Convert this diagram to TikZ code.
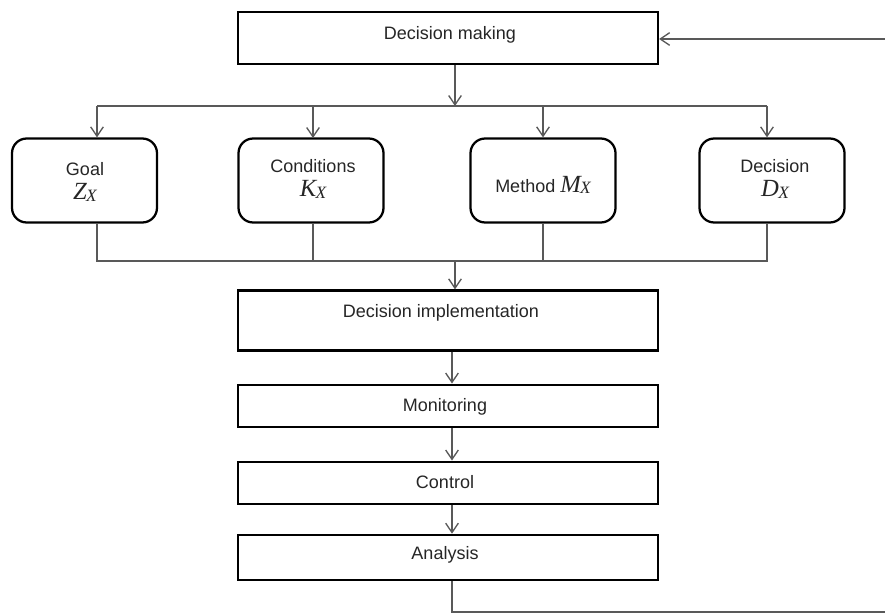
\documentclass[tikz,border=0pt]{standalone}
\usepackage{fontspec}
\setmainfont{Liberation Sans}
\newfontfamily\symfont{Liberation Serif}
\usetikzlibrary{arrows.meta}

% italic symbol with a small X index, e.g. Z_X
\newcommand\idxsym[1]{{\symfont\itshape\fontsize{18.5}{18.5}\selectfont #1\kern-0.5pt\raisebox{-0.06em}{\fontsize{13}{13}\selectfont X}}}

\tikzset{
  x=0.75pt, y=-0.75pt,
  stagebox/.style={draw=black, line width=1.7pt, fill=white, rectangle, inner sep=0pt},
  factorbox/.style={draw=black, line width=1.7pt, fill=white, rectangle, rounded corners=11pt,
    inner sep=0pt, minimum width=108.75pt, minimum height=63pt, align=center},
  txt/.style={font=\fontsize{13.5}{16}\selectfont, text=black!85, inner sep=0pt},
  link/.style={draw=black!65, line width=1pt},
  flow/.style={link, -{Straight Barb[length=7pt, width=9.5pt, line width=1pt]}},
}

\begin{document}
\begin{tikzpicture}
\useasboundingbox (0,0) rectangle (885,613);

% main sequence of stages
\node[stagebox, minimum width=315pt, minimum height=39pt] (dm) at (448,38) {};
\node[txt] (dmt) at (450,35) {Decision making};

\node[stagebox, minimum width=315pt, minimum height=45pt] (di) at (448,320.5) {};
\node[txt] (dit) at (441,313) {Decision implementation};

\node[stagebox, minimum width=315pt, minimum height=32pt] (mo) at (448,406) {};
\node[txt] (mot) at (445,407) {Monitoring};

\node[stagebox, minimum width=315pt, minimum height=32pt] (co) at (448,483) {};
\node[txt] (cot) at (445,482) {Control};

\node[stagebox, minimum width=315pt, minimum height=34pt] (an) at (448,557.5) {};
\node[txt] (ant) at (445,555) {Analysis};

% the four components of a decision
\node[factorbox] (goal) at (84.5,180.5) {};
\node[txt, align=center] (goalt) at (85,182) {Goal\\[2pt]\idxsym{Z}};

\node[factorbox] (cond) at (311,180.5) {};
\node[txt, align=center] (condt) at (313,179) {Conditions\\[2pt]\idxsym{K}};

\node[factorbox] (meth) at (543,180.5) {};
\node[txt] (metht) at (543,185) {Method \idxsym{M}};

\node[factorbox] (dec) at (772,180.5) {};
\node[txt, align=center] (dect) at (775,179) {Decision\\[2pt]\idxsym{D}};

% branching bus under "Decision making"
\coordinate (split) at (455,106);
\coordinate (splitL) at (97,106);
\coordinate (splitR) at (767,106);
\draw[flow] (dm.south -| split) -- (split);
\draw[link] (splitL) -- (splitR);
\draw[flow] (splitL) -- (splitL |- goal.north);
\draw[flow] (cond.north |- split) ++(2,0) -- ++(0,32);
\draw[flow] (meth.north |- split) -- (meth.north);
\draw[flow] (splitR) -- (splitR |- dec.north);

% collecting bus above "Decision implementation"
\coordinate (join) at (455,261);
\coordinate (joinL) at (97,261);
\coordinate (joinR) at (767,261);
\draw[link] (joinL |- goal.south) -- (joinL) -- (joinR) -- (joinR |- dec.south);
\draw[link] (cond.south) ++(2,0) -- ++(0,38);
\draw[link] (meth.south) -- (meth.south |- join);
\draw[flow] (join) -- (join |- di.north);

% downward flow between stages
\coordinate (axis) at (452,0);
\draw[flow] (axis |- di.south) -- (axis |- mo.north);
\draw[flow] (axis |- mo.south) -- (axis |- co.north);
\draw[flow] (axis |- co.south) -- (axis |- an.north);

% feedback loop back to "Decision making"
\coordinate (fbBottom) at (452,612);
\coordinate (fbEndBottom) at (885,612);
\coordinate (fbStart) at (885,39);
\draw[link] (axis |- an.south) -- (fbBottom) -- (fbEndBottom);
\draw[flow] (fbStart) -- (fbStart -| dm.east);
\end{tikzpicture}
\end{document}
